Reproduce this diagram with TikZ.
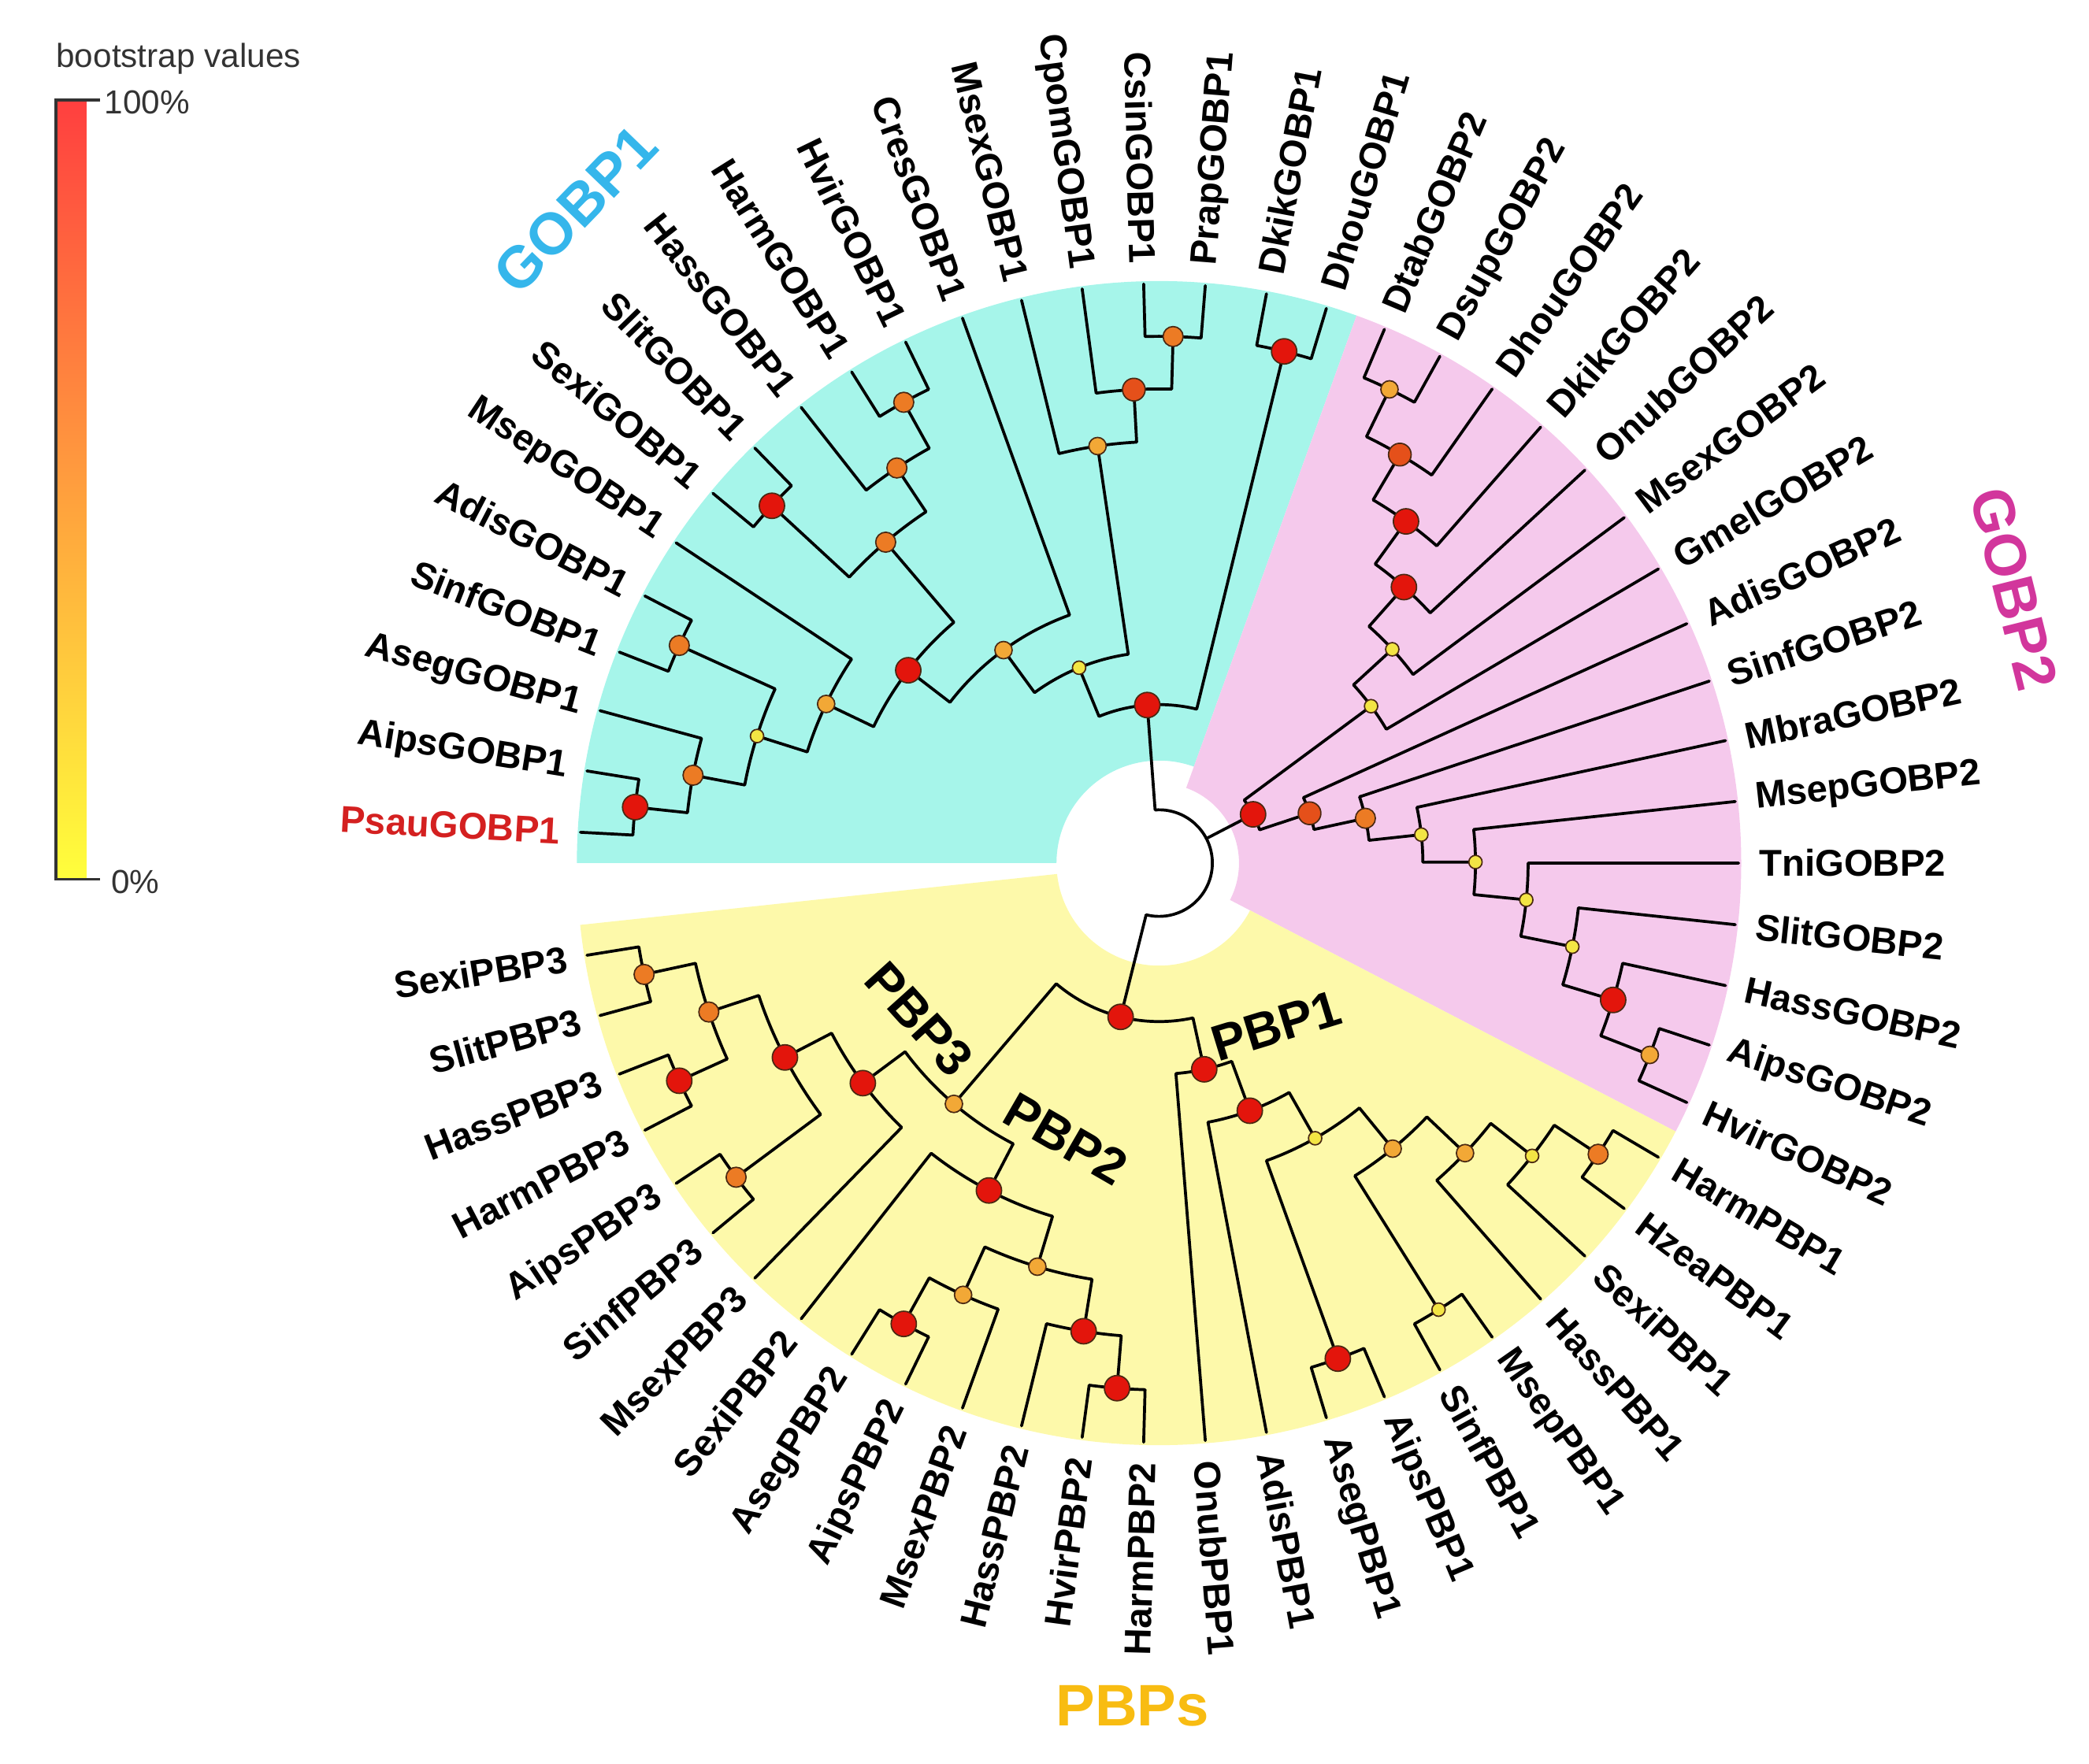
\documentclass[tikz,border=0pt]{standalone}
\usepackage{fontspec}
\setmainfont{Liberation Sans}
\usepackage{tikz}

\definecolor{sectcyan}{HTML}{A6F5EA}
\definecolor{sectpink}{HTML}{F5C9EC}
\definecolor{sectyel}{HTML}{FDF9AA}
\definecolor{bsred}{HTML}{E3150C}
\definecolor{bsredor}{HTML}{E5501A}
\definecolor{bsor}{HTML}{EC7B24}
\definecolor{bslor}{HTML}{F2A836}
\definecolor{bsyel}{HTML}{F3E544}
\definecolor{dotline}{HTML}{4A2812}
\definecolor{gobpone}{HTML}{35B6EB}
\definecolor{gobptwo}{HTML}{D2369C}
\definecolor{pbpgold}{HTML}{F8BC12}
\definecolor{psaured}{HTML}{D42020}
\definecolor{barred}{HTML}{FF3F3F}
\definecolor{barorange}{HTML}{FF9A45}
\definecolor{baryel}{HTML}{FFFF3C}
\definecolor{legtxt}{HTML}{333333}

\tikzset{
  branch/.style={draw=black, line width=1.1pt, line cap=round, line join=round},
  leaflab/.style={font=\bfseries\fontsize{14}{16}\selectfont, inner sep=0pt},
  cladetitle/.style={font=\bfseries\fontsize{22}{24}\selectfont, inner sep=0pt},
  subclade/.style={font=\bfseries\fontsize{19}{21}\selectfont, inner sep=0pt},
  legtext/.style={font=\fontsize{12.5}{14}\selectfont, text=legtxt, inner sep=0pt},
  bsdot/.style={draw=dotline, line width=0.5pt},
  bsA/.style={bsdot, fill=bsred, radius=9.5},
  bsB/.style={bsdot, fill=bsredor, radius=8.5},
  bsC/.style={bsdot, fill=bsor, radius=7.5},
  bsD/.style={bsdot, fill=bslor, radius=6.5},
  bsE/.style={bsdot, fill=bsyel, radius=5}
}

% hoja: color, nombre, indice
\newcommand\tleaf[3][black]{%
  \pgfmathsetmacro\lang{#3*360/59}%
  \expandafter\xdef\csname ang@#2\endcsname{\lang}%
  \coordinate (#2) at (\lang:435);
  \pgfmathtruncatemacro\lflip{abs(\lang)>90}%
  \ifnum\lflip=1
    \pgfmathsetmacro\lrot{\lang+180}%
    \node[leaflab, text=#1, anchor=east, rotate=\lrot] (lab-#2) at (\lang:450) {#2};
  \else
    \node[leaflab, text=#1, anchor=west, rotate=\lang] (lab-#2) at (\lang:450) {#2};
  \fi
}
% clado: nombre, nivel, hijo 1, hijo 2
\newcommand\tclade[4]{%
  \edef\angA{\csname ang@#3\endcsname}%
  \edef\angB{\csname ang@#4\endcsname}%
  \pgfmathsetmacro\cang{(\angA+\angB)/2}%
  \pgfmathsetmacro\crad{435-39.5*#2}%
  \expandafter\xdef\csname ang@#1\endcsname{\cang}%
  \coordinate (#1) at (\cang:\crad);
  \draw[branch] (#3) -- (\angA:\crad)
    arc[start angle=\angA, end angle=\angB, radius=\crad] -- (#4);
}

\begin{document}
\begin{tikzpicture}[x=0.5pt, y=0.5pt]
\useasboundingbox (-870,-676) rectangle (698,648);
% Sectores de color
\fill[sectcyan] (70.17:77) -- (70.17:437) arc[start angle=70.17, end angle=180, radius=437]
  -- (180:77) arc[start angle=180, end angle=70.17, radius=77] -- cycle;
\fill[sectpink] (-27.46:60) -- (-27.46:437) arc[start angle=-27.46, end angle=70.17, radius=437]
  -- (70.17:60) arc[start angle=70.17, end angle=-27.46, radius=60] -- cycle;
\fill[sectyel] (-173.9:77) -- (-173.9:437) arc[start angle=-173.9, end angle=-27.46, radius=437]
  -- (-27.46:77) arc[start angle=-27.46, end angle=-173.9, radius=77] -- cycle;

% Hojas GOBP1
\tleaf{DhouGOBP1}{12}
\tleaf{DkikGOBP1}{13}
\tleaf{PrapGOBP1}{14}
\tleaf{CsinGOBP1}{15}
\tleaf{CpomGOBP1}{16}
\tleaf{MsexGOBP1}{17}
\tleaf{CresGOBP1}{18}
\tleaf{HvirGOBP1}{19}
\tleaf{HarmGOBP1}{20}
\tleaf{HassGOBP1}{21}
\tleaf{SlitGOBP1}{22}
\tleaf{SexiGOBP1}{23}
\tleaf{MsepGOBP1}{24}
\tleaf{AdisGOBP1}{25}
\tleaf{SinfGOBP1}{26}
\tleaf{AsegGOBP1}{27}
\tleaf{AipsGOBP1}{28}
\tleaf[psaured]{PsauGOBP1}{29}
% Hojas GOBP2
\tleaf{DtabGOBP2}{11}
\tleaf{DsupGOBP2}{10}
\tleaf{DhouGOBP2}{9}
\tleaf{DkikGOBP2}{8}
\tleaf{OnubGOBP2}{7}
\tleaf{MsexGOBP2}{6}
\tleaf{GmelGOBP2}{5}
\tleaf{AdisGOBP2}{4}
\tleaf{SinfGOBP2}{3}
\tleaf{MbraGOBP2}{2}
\tleaf{MsepGOBP2}{1}
\tleaf{TniGOBP2}{0}
\tleaf{SlitGOBP2}{-1}
\tleaf{HassGOBP2}{-2}
\tleaf{AipsGOBP2}{-3}
\tleaf{HvirGOBP2}{-4}
% Hojas PBPs
\tleaf{HarmPBP1}{-5}
\tleaf{HzeaPBP1}{-6}
\tleaf{SexiPBP1}{-7}
\tleaf{HassPBP1}{-8}
\tleaf{MsepPBP1}{-9}
\tleaf{SinfPBP1}{-10}
\tleaf{AipsPBP1}{-11}
\tleaf{AsegPBP1}{-12}
\tleaf{AdisPBP1}{-13}
\tleaf{OnubPBP1}{-14}
\tleaf{HarmPBP2}{-15}
\tleaf{HvirPBP2}{-16}
\tleaf{HassPBP2}{-17}
\tleaf{MsexPBP2}{-18}
\tleaf{AipsPBP2}{-19}
\tleaf{AsegPBP2}{-20}
\tleaf{SexiPBP2}{-21}
\tleaf{MsexPBP3}{-22}
\tleaf{SinfPBP3}{-23}
\tleaf{AipsPBP3}{-24}
\tleaf{HarmPBP3}{-25}
\tleaf{HassPBP3}{-26}
\tleaf{SlitPBP3}{-27}
\tleaf{SexiPBP3}{-28}

% Clados GOBP1
\tclade{g1a}{1}{AipsGOBP1}{PsauGOBP1}
\tclade{g1b}{2}{AsegGOBP1}{g1a}
\tclade{g1c}{1}{AdisGOBP1}{SinfGOBP1}
\tclade{g1d}{3}{g1c}{g1b}
\tclade{g1e}{4}{MsepGOBP1}{g1d}
\tclade{g1f}{1}{SlitGOBP1}{SexiGOBP1}
\tclade{g1g}{1}{HvirGOBP1}{HarmGOBP1}
\tclade{g1h}{2}{g1g}{HassGOBP1}
\tclade{g1i}{3}{g1h}{g1f}
\tclade{g1j}{5}{g1i}{g1e}
\tclade{g1k}{6}{CresGOBP1}{g1j}
\tclade{g1l}{1}{PrapGOBP1}{CsinGOBP1}
\tclade{g1m}{2}{g1l}{CpomGOBP1}
\tclade{g1n}{3}{g1m}{MsexGOBP1}
\tclade{g1o}{7}{g1n}{g1k}
\tclade{g1p}{1}{DhouGOBP1}{DkikGOBP1}
\tclade{gobpA}{8}{g1p}{g1o}
% Clados GOBP2
\tclade{g2a}{1}{DsupGOBP2}{DtabGOBP2}
\tclade{g2b}{2}{DhouGOBP2}{g2a}
\tclade{g2c}{3}{DkikGOBP2}{g2b}
\tclade{g2d}{4}{OnubGOBP2}{g2c}
\tclade{g2e}{5}{MsexGOBP2}{g2d}
\tclade{g2f}{6}{GmelGOBP2}{g2e}
\tclade{g2g}{1}{HvirGOBP2}{AipsGOBP2}
\tclade{g2h}{2}{g2g}{HassGOBP2}
\tclade{g2i}{3}{g2h}{SlitGOBP2}
\tclade{g2j}{4}{g2i}{TniGOBP2}
\tclade{g2k}{5}{g2j}{MsepGOBP2}
\tclade{g2l}{6}{g2k}{MbraGOBP2}
\tclade{g2m}{7}{g2l}{SinfGOBP2}
\tclade{g2n}{8}{g2m}{AdisGOBP2}
\tclade{gobpB}{9}{g2n}{g2f}
% Clados PBP1
\tclade{p1a}{1}{HarmPBP1}{HzeaPBP1}
\tclade{p1b}{2}{p1a}{SexiPBP1}
\tclade{p1c}{3}{p1b}{HassPBP1}
\tclade{p1d}{1}{MsepPBP1}{SinfPBP1}
\tclade{p1e}{4}{p1c}{p1d}
\tclade{p1f}{1}{AipsPBP1}{AsegPBP1}
\tclade{p1g}{5}{p1e}{p1f}
\tclade{p1h}{6}{p1g}{AdisPBP1}
\tclade{pbpA}{7}{p1h}{OnubPBP1}
% Clados PBP2
\tclade{p2a}{1}{HarmPBP2}{HvirPBP2}
\tclade{p2b}{2}{p2a}{HassPBP2}
\tclade{p2c}{1}{AipsPBP2}{AsegPBP2}
\tclade{p2d}{2}{MsexPBP2}{p2c}
\tclade{p2e}{3}{p2b}{p2d}
\tclade{pbpB}{4}{p2e}{SexiPBP2}
% Clados PBP3
\tclade{p3a}{1}{SlitPBP3}{SexiPBP3}
\tclade{p3b}{1}{HarmPBP3}{HassPBP3}
\tclade{p3c}{2}{p3b}{p3a}
\tclade{p3d}{1}{SinfPBP3}{AipsPBP3}
\tclade{p3e}{3}{p3d}{p3c}
\tclade{pbpC}{4}{MsexPBP3}{p3e}
\tclade{p23}{5}{pbpB}{pbpC}
\tclade{pbpR}{8}{pbpA}{p23}

% Raiz
\coordinate (root) at (0,0);
\edef\angGA{\csname ang@gobpA\endcsname}
\edef\angGB{\csname ang@gobpB\endcsname}
\edef\angPR{\csname ang@pbpR\endcsname}
\draw[branch] (gobpA) -- (\angGA:40) arc[start angle=\angGA, end angle=\angPR, radius=40] -- (pbpR);
\draw[branch] (gobpB) -- (\angGB:40);

% Valores bootstrap
\foreach \n in {gobpA,g1p,g1j,g1f,g1a,gobpB,g2h,g2c,g2d,pbpR,pbpA,p1h,p1f,pbpC,p3e,p3b,pbpB,p2c,p2b,p2a}
  \path[bsA] (\n) circle;
\foreach \n in {g1m,g2n,g2b}
  \path[bsB] (\n) circle;
\foreach \n in {g1l,g1i,g1h,g1g,g1c,g1b,g2m,p1a,p3c,p3a,p3d}
  \path[bsC] (\n) circle;
\foreach \n in {g1n,g1k,g1e,g2g,g2a,p1e,p1c,p23,p2e,p2d}
  \path[bsD] (\n) circle;
\foreach \n in {g1o,g1d,g2l,g2k,g2j,g2i,g2e,g2f,p1g,p1d,p1b}
  \path[bsE] (\n) circle;

% Titulos de los grupos
\node[cladetitle, text=gobpone, rotate=46] (tGOBP1) at (-438,491) {GOBP1};
\node[cladetitle, text=gobptwo, rotate=-76] (tGOBP2) at (642,206) {GOBP2};
\node[cladetitle, text=pbpgold] (tPBPs) at (-20,-633) {PBPs};
\node[subclade, rotate=17] (tPBP1) at (88,-122) {PBP1};
\node[subclade, rotate=-30] (tPBP2) at (-70,-207) {PBP2};
\node[subclade, rotate=-48] (tPBP3) at (-180,-117) {PBP3};

% Leyenda
\shade[top color=barred, middle color=barorange, bottom color=baryel] (-828,-12) rectangle (-805,573);
\draw[line width=1pt, draw=black!80] (-795,573) -- (-828,573) -- (-828,-12) -- (-795,-12);
\node[legtext] (lgtitle) at (-736,604) {bootstrap values};
\node[legtext, anchor=west] (lg100) at (-792,571) {100\%};
\node[legtext, anchor=west] (lg0) at (-787,-14) {0\%};
\end{tikzpicture}
\end{document}
